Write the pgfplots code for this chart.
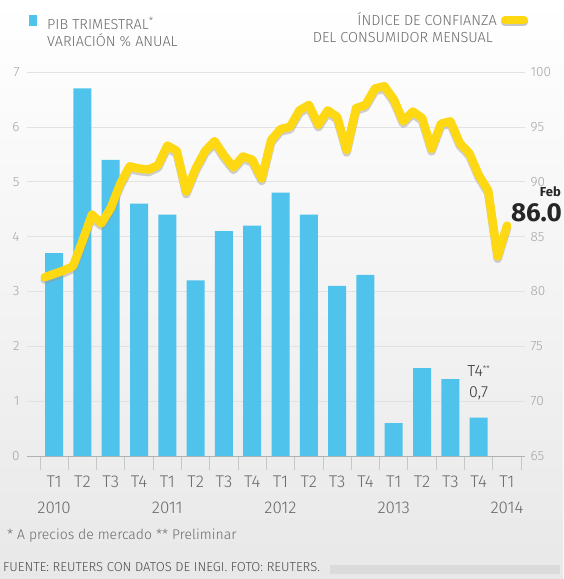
\documentclass[border=0pt]{standalone}
\usepackage{pgfplots}
\pgfplotsset{compat=1.18}
\usepackage{pgfplotstable}
\usepackage{fontspec}
\setmainfont{Fira Sans}[UprightFont={* Light}, BoldFont={* Bold}]

\definecolor{barblue}{HTML}{4FC3EC}
\definecolor{cyel}{HTML}{FFD814}
\definecolor{txtgray}{HTML}{6A6A6A}
\definecolor{lblgray}{HTML}{A5A5A5}
\definecolor{gridgray}{HTML}{E2E2E2}

% PIB trimestral, variacion % anual (T1 2010 ... T4 2013)
\pgfplotstableread{
q  pib
0  3.7
1  6.7
2  5.4
3  4.6
4  4.4
5  3.2
6  4.1
7  4.2
8  4.8
9  4.4
10 3.1
11 3.3
12 0.6
13 1.6
14 1.4
15 0.7
}\pib

% indice de confianza del consumidor, mensual (m=0: ene 2010 ... m=49: feb 2014)
\pgfplotstableread{
m  icc
0  81.3
1  81.6
2  81.9
3  82.3
4  84.6
5  87.0
6  86.2
7  87.6
8  89.8
9  91.4
10 91.2
11 91.1
12 91.5
13 93.3
14 92.8
15 89.1
16 91.2
17 92.8
18 93.7
19 92.4
20 91.3
21 92.3
22 92.0
23 90.3
24 93.8
25 94.8
26 95.0
27 96.5
28 97.0
29 95.2
30 96.5
31 95.9
32 92.9
33 96.7
34 97.0
35 98.5
36 98.7
37 97.5
38 95.5
39 96.4
40 95.8
41 93.0
42 95.3
43 95.5
44 93.5
45 92.6
46 90.6
47 89.2
48 83.2
49 86.0
}\icc

\begin{document}
\begin{tikzpicture}[x=1pt,y=1pt]
\shade[top color=white, bottom color=black!9] (0,0) rectangle (563,579);

\begin{axis}[
  at={(27pt,123pt)}, anchor=south west,
  scale only axis, width=498pt, height=384pt,
  xmin=-0.959, xmax=16.638, ymin=0, ymax=7,
  axis x line*=bottom, axis y line*=left,
  y axis line style={draw=none},
  x axis line style={draw=black!30, line width=0.8pt},
  ytick={0,...,7}, ytick style={draw=none},
  ymajorgrids, grid style={gridgray, line width=0.7pt},
  xtick={0,...,16},
  xticklabels={{T1\\2010},T2,T3,T4,{T1\\2011},T2,T3,T4,{T1\\2012},T2,T3,T4,{T1\\2013},T2,T3,T4,{T1\\2014}},
  minor xtick={-0.5,0.5,...,16.5},
  major tick length=0pt, minor tick length=14pt, tick align=outside,
  minor tick style={draw=black!22, line width=0.8pt},
  xticklabel style={font=\fontsize{17}{26}\selectfont, text=txtgray, align=center, inner sep=0pt, yshift=-20pt},
  yticklabel style={font=\fontsize{13.5}{15}\selectfont, text=lblgray, xshift=-4pt},
  /pgf/number format/assume math mode=true,
]
\addplot[ybar, bar width=18pt, fill=barblue, draw=none] table[x=q, y=pib] {\pib};
\node[font=\fontsize{16}{18}\selectfont, text=black!80, inner sep=0pt] at (axis cs:15,1.55) {T4\raisebox{0.55ex}{\fontsize{8}{8}\selectfont **}};
\node[font=\fontsize{16}{18}\selectfont, text=black!80, inner sep=0pt] at (axis cs:15,1.15) {0,7};
\end{axis}

\begin{axis}[
  at={(27pt,123pt)}, anchor=south west,
  scale only axis, width=498pt, height=384pt,
  xmin=-1.878, xmax=50.9, ymin=65, ymax=100,
  hide x axis, axis y line*=right,
  y axis line style={draw=none},
  ytick={65,70,...,100}, ytick style={draw=none},
  yticklabel style={font=\fontsize{13.5}{15}\selectfont, text=lblgray, xshift=2pt},
  /pgf/number format/assume math mode=true,
]
\addplot[no markers, draw=black!40, opacity=0.45, line width=8.5pt, line join=round, line cap=round, yshift=-2.5pt] table[x=m, y=icc] {\icc};
\addplot[no markers, draw=cyel, line width=8.5pt, line join=round, line cap=round] table[x=m, y=icc] {\icc};
\end{axis}

% leyendas
\fill[barblue] (29,553) rectangle (37,564);
\node[anchor=base west, font=\fontsize{14.5}{16}\selectfont, text=txtgray, inner sep=0pt] at (47,549) {PIB TRIMESTRAL\textsuperscript{*}};
\node[anchor=base west, font=\fontsize{14.5}{16}\selectfont, text=txtgray, inner sep=0pt] at (47,532) {VARIACIÓN \% ANUAL};
\node[anchor=base east, font=\fontsize{14.5}{16}\selectfont, text=txtgray, inner sep=0pt] at (497,553) {ÍNDICE DE CONFIANZA};
\node[anchor=base east, font=\fontsize{14.5}{16}\selectfont, text=txtgray, inner sep=0pt] at (493,536) {DEL CONSUMIDOR MENSUAL};
\draw[line width=8pt, line cap=round, black!22] (505,556.5) -- (524,556.5);
\draw[line width=8pt, line cap=round, cyel] (505,559) -- (524,559);

% ultimo dato
\node[anchor=base east, font=\bfseries\fontsize{13}{15}\selectfont, text=black!85, inner sep=0pt] at (561,382) {Feb};
\node[anchor=base east, font=\bfseries\fontsize{26}{28}\selectfont, text=black!85, inner sep=0pt] at (562,357) {86.0};

% notas
\node[anchor=base west, font=\fontsize{14}{16}\selectfont, text=txtgray, inner sep=0pt] at (7,39) {* A precios de mercado ** Preliminar};
\node[anchor=base west, font=\fontsize{13}{15}\selectfont, text=black!70, inner sep=0pt] at (3,7) {FUENTE: REUTERS CON DATOS DE INEGI. FOTO: REUTERS.};
\fill[black!14] (330,5) rectangle (560,14);
\end{tikzpicture}
\end{document}
